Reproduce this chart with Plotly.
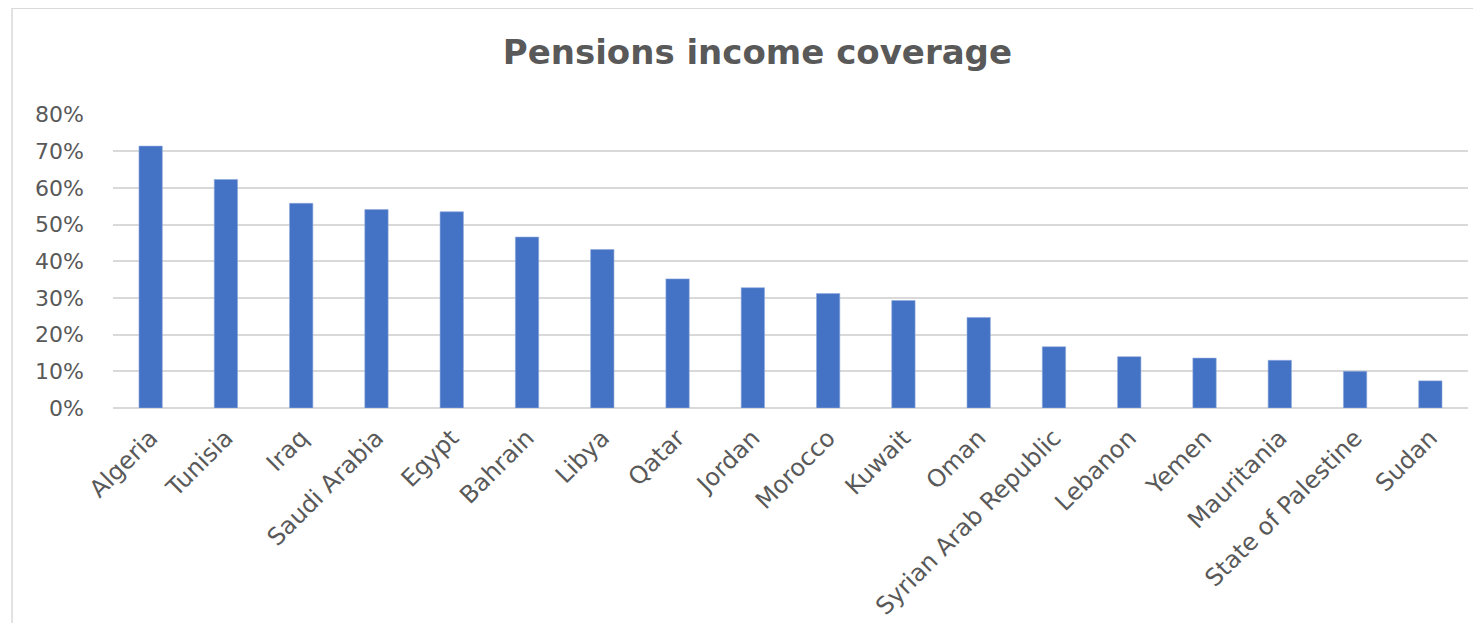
import plotly.graph_objects as go

countries = ["Algeria", "Tunisia", "Iraq", "Saudi Arabia", "Egypt", "Bahrain", "Libya",
             "Qatar", "Jordan", "Morocco", "Kuwait", "Oman", "Syrian Arab Republic",
             "Lebanon", "Yemen", "Mauritania", "State of Palestine", "Sudan"]
coverage = [0.714, 0.623, 0.558, 0.541, 0.535, 0.466, 0.432, 0.352, 0.328, 0.312,
            0.293, 0.247, 0.167, 0.140, 0.136, 0.130, 0.100, 0.074]
y_ticks = [0, 0.1, 0.2, 0.3, 0.4, 0.5, 0.6, 0.7, 0.8]

fig = go.Figure(go.Bar(
    x=countries, y=coverage,
    marker=dict(color="#4472C4", line=dict(color="#8faadc", width=0.6)),
    width=0.31,
))

fig.update_layout(
    width=1481, height=623,
    paper_bgcolor="white", plot_bgcolor="white",
    margin=dict(l=105, r=21, t=106, b=223),
    title=dict(text="<b>Pensions income coverage</b>", x=0.506, xanchor="center",
               y=0.929, yanchor="middle",
               font=dict(family="DejaVu Sans", size=34, color="#595959")),
    showlegend=False,
    font=dict(family="DejaVu Sans", color="#595959"),
    shapes=[dict(type="rect", xref="paper", yref="paper",
                 x0=-0.0745, x1=1.1, y0=-1.0, y1=1.3595,
                 line=dict(color="#d9d9d9", width=1.5), layer="below")],
)
fig.update_xaxes(tickangle=-45, tickfont=dict(size=24, color="#595959"),
                 showgrid=False, showline=False, ticks="",
                 ticklabelstandoff=10, automargin=False)
fig.update_yaxes(range=[0, 0.8015], tickvals=y_ticks, tickformat=".0%",
                 tickfont=dict(size=22, color="#595959"),
                 showgrid=True, gridcolor="#d9d9d9", gridwidth=1.5,
                 zeroline=True, zerolinecolor="#d9d9d9", zerolinewidth=1.5,
                 ticklabelstandoff=28, automargin=False)

fig.write_html("out.html")
